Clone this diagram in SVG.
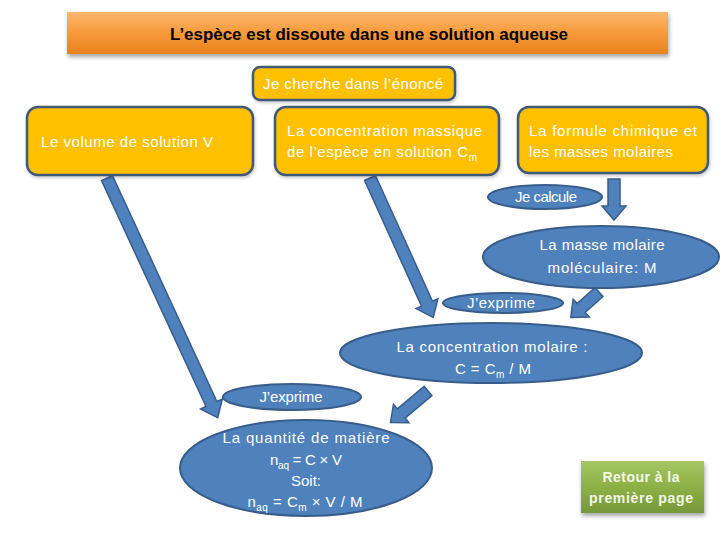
<svg xmlns="http://www.w3.org/2000/svg" width="720" height="540" viewBox="0 0 720 540">
<defs>
<linearGradient id="gOr" x1="0" y1="0" x2="0" y2="1">
<stop offset="0" stop-color="#FBB66F"/><stop offset="0.5" stop-color="#F79A3A"/><stop offset="1" stop-color="#E8821E"/>
</linearGradient>
<linearGradient id="gGr" x1="0" y1="0" x2="0" y2="1">
<stop offset="0" stop-color="#A5C663"/><stop offset="0.5" stop-color="#8DB046"/><stop offset="1" stop-color="#76983A"/>
</linearGradient>
<filter id="sh" x="-10%" y="-20%" width="120%" height="160%">
<feDropShadow dx="1" dy="3" stdDeviation="2" flood-color="#000" flood-opacity="0.35"/>
</filter>
<filter id="sh2" x="-10%" y="-20%" width="120%" height="160%">
<feDropShadow dx="1" dy="2" stdDeviation="1.5" flood-color="#000" flood-opacity="0.2"/>
</filter>
</defs>
<style>
text{font-family:"Liberation Sans","DejaVu Sans",sans-serif;}
.box{fill:#FFC000;stroke:#41597A;stroke-width:2.5;filter:url(#sh2);}
.ell{fill:#4F81BD;stroke:#385D8A;stroke-width:2;}
.arrow{fill:#4F81BD;stroke:#385D8A;stroke-width:1.5;stroke-linejoin:miter;}
.wt{fill:#FFFFFF;font-size:15px;}
.mid{text-anchor:middle;}
.sub{font-size:10px;}
</style>
<rect width="720" height="540" fill="#FFFFFF"/>

<g id="title">
<rect x="67" y="12" width="601" height="42" fill="url(#gOr)" filter="url(#sh)"/>
<text x="369" y="40" class="mid" font-size="17" font-weight="bold" fill="#000" textLength="398" lengthAdjust="spacingAndGlyphs">L’espèce est dissoute dans une solution aqueuse</text>
</g>

<g id="connectors">
<path class="arrow" transform="translate(107,178) rotate(65.2)" d="M0,-6 L249,-6 L249,-12 L264,0 L249,12 L249,6 L0,6 Z"/>
<path class="arrow" transform="translate(370,178) rotate(65.6)" d="M0,-6 L138,-6 L138,-12 L153,0 L138,12 L138,6 L0,6 Z"/>
<path class="arrow" transform="translate(614,179) rotate(90)" d="M0,-6 L27,-6 L27,-12 L41,0 L27,12 L27,6 L0,6 Z"/>
<path class="arrow" transform="translate(599,292) rotate(138)" d="M0,-6 L24,-6 L24,-12 L38,0 L24,12 L24,6 L0,6 Z"/>
<path class="arrow" transform="translate(428,391) rotate(140)" d="M0,-6 L35,-6 L35,-12 L49,0 L35,12 L35,6 L0,6 Z"/>
</g>

<g id="cherche">
<rect class="box" x="253" y="67" width="202" height="33" rx="7"/>
<text class="wt mid" x="353" y="89" textLength="180" lengthAdjust="spacing">Je cherche dans l’énoncé</text>
</g>

<g id="volume">
<rect class="box" x="27" y="107" width="226" height="68" rx="11"/>
<text class="wt" x="41" y="147" textLength="172" lengthAdjust="spacing">Le volume de solution V</text>
</g>

<g id="cmassique">
<rect class="box" x="275" y="107" width="224" height="68" rx="11"/>
<text class="wt" x="287" y="136" textLength="195" lengthAdjust="spacing">La concentration massique</text>
<text class="wt" x="287" y="157" textLength="190" lengthAdjust="spacing">de l’espèce en solution C<tspan class="sub" dy="4">m</tspan></text>
</g>

<g id="formule">
<rect class="box" x="518" y="107" width="190" height="66" rx="11"/>
<text class="wt" x="529" y="136" textLength="168" lengthAdjust="spacing">La formule chimique et</text>
<text class="wt" x="529" y="157" textLength="144" lengthAdjust="spacing">les masses molaires</text>
</g>

<g id="calcule">
<ellipse class="ell" cx="545" cy="197" rx="57" ry="12"/>
<text class="wt mid" x="546" y="202" font-size="13" textLength="62" lengthAdjust="spacing">Je calcule</text>
</g>

<g id="massemolaire">
<ellipse class="ell" cx="601" cy="257" rx="118" ry="31"/>
<text class="wt mid" x="602" y="250" textLength="125" lengthAdjust="spacing">La masse molaire</text>
<text class="wt mid" x="602" y="273" textLength="109" lengthAdjust="spacing">moléculaire: M</text>
</g>

<g id="exprime1">
<ellipse class="ell" cx="503" cy="303" rx="60" ry="10"/>
<text class="wt mid" x="501" y="308" font-size="13" textLength="68" lengthAdjust="spacing">J’exprime</text>
</g>

<g id="cmolaire">
<ellipse class="ell" cx="491" cy="353" rx="151" ry="30"/>
<text class="wt mid" x="492" y="352" textLength="191" lengthAdjust="spacing">La concentration molaire :</text>
<text class="wt mid" x="493" y="374" textLength="76" lengthAdjust="spacing">C = C<tspan class="sub" dy="4">m</tspan><tspan dy="-4"> / M</tspan></text>
</g>

<g id="exprime2">
<ellipse class="ell" cx="292" cy="397" rx="69" ry="13"/>
<text class="wt mid" x="291" y="402" font-size="13" textLength="63" lengthAdjust="spacing">J’exprime</text>
</g>

<g id="quantite">
<ellipse class="ell" cx="306" cy="468" rx="126" ry="48"/>
<text class="wt mid" x="306" y="443" textLength="167" lengthAdjust="spacing">La quantité de matière</text>
<text class="wt mid" x="306" y="465" textLength="72" lengthAdjust="spacing">n<tspan class="sub" dy="4">aq</tspan><tspan dy="-4"> = C × V</tspan></text>
<text class="wt mid" x="306" y="486">Soit:</text>
<text class="wt mid" x="305" y="507" textLength="115" lengthAdjust="spacing">n<tspan class="sub" dy="4">aq</tspan><tspan dy="-4"> = C</tspan><tspan class="sub" dy="4">m</tspan><tspan dy="-4"> × V / M</tspan></text>
</g>

<g id="retour">
<rect x="581" y="461" width="123" height="52" fill="url(#gGr)" filter="url(#sh)"/>
<text class="mid" x="641" y="482" font-size="14" font-weight="bold" fill="#F2F7E6" textLength="77" lengthAdjust="spacing">Retour à la</text>
<text class="mid" x="641" y="503" font-size="14" font-weight="bold" fill="#F2F7E6" textLength="104" lengthAdjust="spacing">première page</text>
</g>
</svg>
